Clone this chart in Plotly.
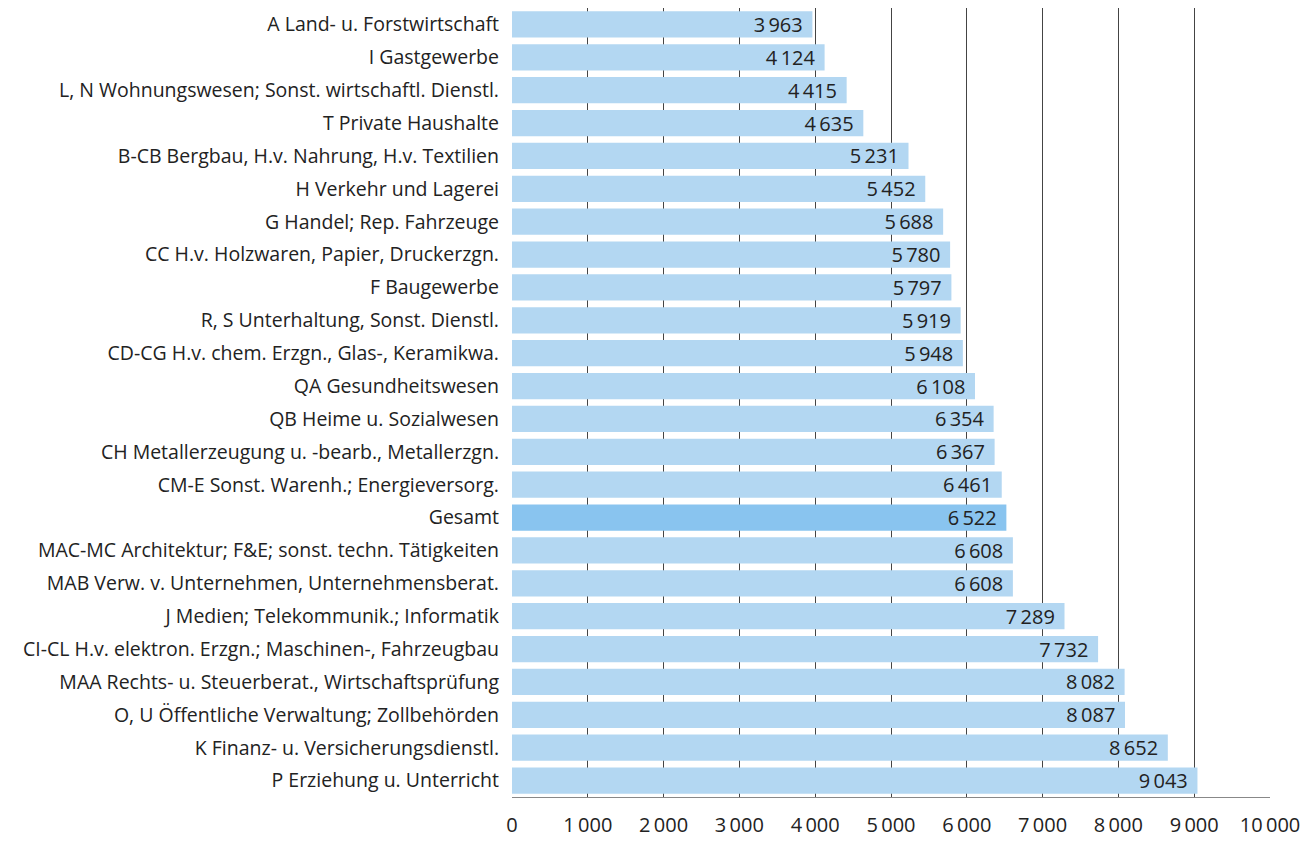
import plotly.graph_objects as go

categories = [
    "A Land- u. Forstwirtschaft",
    "I Gastgewerbe",
    "L, N Wohnungswesen; Sonst. wirtschaftl. Dienstl.",
    "T Private Haushalte",
    "B-CB Bergbau, H.v. Nahrung, H.v. Textilien",
    "H Verkehr und Lagerei",
    "G Handel; Rep. Fahrzeuge",
    "CC H.v. Holzwaren, Papier, Druckerzgn.",
    "F Baugewerbe",
    "R, S Unterhaltung, Sonst. Dienstl.",
    "CD-CG H.v. chem. Erzgn., Glas-, Keramikwa.",
    "QA Gesundheitswesen",
    "QB Heime u. Sozialwesen",
    "CH Metallerzeugung u. -bearb., Metallerzgn.",
    "CM-E Sonst. Warenh.; Energieversorg.",
    "Gesamt",
    "MAC-MC Architektur; F&E; sonst. techn. Tätigkeiten",
    "MAB Verw. v. Unternehmen, Unternehmensberat.",
    "J Medien; Telekommunik.; Informatik",
    "CI-CL H.v. elektron. Erzgn.; Maschinen-, Fahrzeugbau",
    "MAA Rechts- u. Steuerberat., Wirtschaftsprüfung",
    "O, U Öffentliche Verwaltung; Zollbehörden",
    "K Finanz- u. Versicherungsdienstl.",
    "P Erziehung u. Unterricht",
]
values = [3963, 4124, 4415, 4635, 5231, 5452, 5688, 5780, 5797, 5919, 5948,
          6108, 6354, 6367, 6461, 6522, 6608, 6608, 7289, 7732, 8082, 8087,
          8652, 9043]
tick_vals = [0, 1000, 2000, 3000, 4000, 5000, 6000, 7000, 8000, 9000, 10000]

THIN = "\u2009"


def fmt(v):
    return f"{v:,}".replace(",", THIN)


colors = ["#89c4ef" if c == "Gesamt" else "#b3d7f2" for c in categories]
texts = [fmt(v) + "\u2004" for v in values]
tick_text = [fmt(v) for v in tick_vals]

FONT = "Open Sans, Liberation Sans, Arial, sans-serif"

fig = go.Figure(go.Bar(
    x=values, y=categories, orientation="h",
    marker=dict(color=colors, line=dict(width=0)),
    text=texts, textposition="inside", insidetextanchor="end",
    textfont=dict(color="#222222", size=20, family=FONT),
    textangle=0, cliponaxis=False,
))

fig.update_layout(
    width=1310, height=841,
    margin=dict(l=504, r=48, t=0, b=52),
    paper_bgcolor="white", plot_bgcolor="white",
    font=dict(family=FONT, size=19.5, color="#222222"),
    bargap=0.2,
    showlegend=False,
    uniformtext=dict(minsize=20, mode="show"),
)
fig.update_xaxes(
    range=[0, 10000], tickvals=tick_vals, ticktext=tick_text,
    tickfont=dict(size=20),
    showgrid=True, gridcolor="#444444", gridwidth=1,
    showline=True, linecolor="#888888", linewidth=1,
    zeroline=False, ticks="", ticklabelstandoff=10, fixedrange=True,
    automargin=False,
)
fig.update_yaxes(
    autorange="reversed", showgrid=False, ticks="", ticklabelstandoff=12,
    showline=False, fixedrange=True, automargin=False,
)

fig.write_html("out.html")
